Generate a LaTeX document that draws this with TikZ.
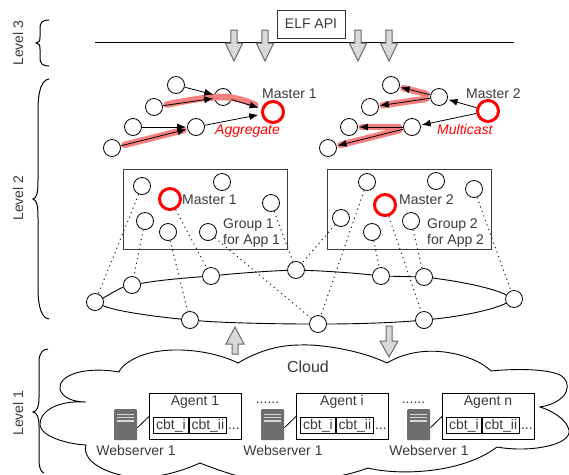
\documentclass[tikz,border=0pt]{standalone}
\usepackage{fontspec}
\setmainfont{Liberation Sans}
\usetikzlibrary{arrows.meta}
\definecolor{txt}{HTML}{3A3A3A}
\definecolor{srv}{HTML}{6E6E6E}
\definecolor{pinkline}{HTML}{F47F7F}
\definecolor{arrowfill}{HTML}{D9D9D9}
\definecolor{arrowedge}{HTML}{6A6A6A}
\tikzset{
  x=1pt,y=-1pt,
  lbl/.style={font=\fontsize{14}{16}\selectfont,text=txt,inner sep=0pt},
  redlbl/.style={font=\fontsize{14}{16}\selectfont\itshape,text=red,inner sep=0pt},
  peer/.style={circle,draw=black,fill=white,line width=0.8pt,minimum size=17pt,inner sep=0pt},
  master/.style={circle,draw=red,fill=white,line width=3pt,minimum size=21pt,inner sep=0pt},
  hl/.style={draw=pinkline,line width=6.5pt,line cap=round,shorten >=4pt,shorten <=4pt},
  arr/.style={draw=black,line width=0.8pt,shorten >=1pt,-{Latex[length=9pt,width=7pt]}},
  dots/.style={draw=black!85,line width=1pt,dash pattern=on 1.2pt off 3.6pt},
  ringline/.style={draw=black,line width=0.9pt},
  groupbox/.style={draw=black!75,line width=1pt,fill=none,inner sep=0pt},
  plainbox/.style={draw=black!80,line width=1pt,inner sep=0pt,font=\fontsize{14}{16}\selectfont,text=txt},
  cbt/.style={draw=black,line width=0.9pt,inner sep=0pt,minimum height=16pt,text height=11pt,text depth=3pt,font=\fontsize{14}{16}\selectfont,text=txt},
  brace/.style={draw=black,line width=1pt},
  bigarrow/.style={draw=arrowedge,fill=arrowfill,line width=1pt,line join=miter},
  srvbox/.style={fill=srv,draw=none,rounded corners=1pt,minimum width=23pt,minimum height=31pt,inner sep=0pt},
  srvline/.style={draw=white!85!black,line width=1.3pt},
  thin/.style={draw=black,line width=0.8pt}
}
\newcommand{\downarrowshape}[3]{% x, top y, tip y
  \draw[bigarrow] (#1-3.2,#2) -- (#1+3.2,#2) -- (#1+3.2,#3-18) -- (#1+8.7,#3-18) -- (#1,#3) -- (#1-8.7,#3-18) -- (#1-3.2,#3-18) -- cycle;}
\begin{document}
\begin{tikzpicture}
\useasboundingbox (0,0) rectangle (569,474);
\begin{scope}
\clip (0,0) rectangle (569,474);
% cloud
\draw[draw=black,line width=0.9pt,fill=white]
 (238,363) .. controls (212,350) and (168,345) .. (140,356)
 .. controls (128,361) and (121,367) .. (119,372)
 .. controls (85,366) and (58,375) .. (60,389)
 .. controls (62,398) and (74,402) .. (86,402)
 .. controls (55,400) and (39,413) .. (40,425)
 .. controls (41,436) and (66,444) .. (86,445)
 .. controls (82,456) and (95,470) .. (125,476)
 .. controls (150,481) and (180,472) .. (200,463)
 .. controls (215,469) and (230,474) .. (245,478)
 .. controls (280,484) and (330,482) .. (368,468)
 .. controls (395,475) and (460,475) .. (497,447)
 .. controls (530,453) and (572,445) .. (569,430)
 .. controls (566,418) and (550,410) .. (540,407)
 .. controls (570,402) and (573,382) .. (560,375)
 .. controls (545,368) and (510,369) .. (491,371)
 .. controls (475,355) and (425,340) .. (387,363)
 .. controls (360,350) and (320,344) .. (300,345)
 .. controls (275,345) and (255,353) .. (238,363) -- cycle;
\end{scope}
% level 3
\draw[thin,line width=1pt] (95,42) coordinate (la) -- (514,42) coordinate (lb);
\node[plainbox,minimum width=68pt,minimum height=28pt] (api) at (311,24) {ELF API};
\downarrowshape{234}{30}{61}
\downarrowshape{265}{30}{61}
\downarrowshape{358}{30}{61}
\downarrowshape{389}{30}{61}
% braces
\draw[brace] (49,20) .. controls (42,20) and (40,23) .. (40,28) -- (40,37) .. controls (40,41) and (39,43) .. (36,43)
  .. controls (39,43) and (40,45) .. (40,49) -- (40,58) .. controls (40,63) and (42,66) .. (49,66);
\draw[brace] (49,79) .. controls (42,80) and (38,90) .. (38,110) -- (38,180) .. controls (38,192) and (37,198) .. (33,199)
  .. controls (37,200) and (38,206) .. (38,218) -- (38,288) .. controls (38,308) and (42,318) .. (49,319);
\draw[brace] (48,349) .. controls (43,349) and (39,353) .. (39,362) -- (39,398) .. controls (39,407) and (37,411) .. (33,412)
  .. controls (37,413) and (39,417) .. (39,426) -- (39,460) .. controls (39,468) and (41,472) .. (44,473);
\node[lbl,rotate=90] (l3) at (18,43) {Level 3};
\node[lbl,rotate=90] (l2) at (18,198) {Level 2};
\node[lbl,rotate=90] (l1) at (18,413) {Level 1};
% aggregate tree
\node[peer] (a1) at (176,85) {};
\node[peer] (a2) at (154,107) {};
\node[peer] (a3) at (133,127) {};
\node[peer] (a4) at (112,148) {};
\node[peer] (b1) at (223,97) {};
\node[peer] (b2) at (196,127) {};
\node[master] (m1) at (273,112) {};
\draw[hl] (a4) -- (b2);
\draw[hl,shorten >=7pt] (a2) .. controls (185,101) and (205,97) .. (b1.center) .. controls (236,97) and (248,102) .. (m1);
\draw[arr] (a1) -- (b1);
\draw[arr] (a2) -- (b1);
\draw[arr,shorten >=3pt] (b1) -- (m1);
\draw[arr] (a3) -- (b2);
\draw[arr] (a4) -- (b2);
\draw[arr,shorten >=3pt] (b2) -- (m1);
\node[lbl,anchor=base west] (m1t) at (262,98) {Master 1};
\node[redlbl,anchor=base west] (agg) at (215,134) {Aggregate};
% multicast tree
\node[peer] (c1) at (391,85) {};
\node[peer] (c2) at (370,107) {};
\node[peer] (c3) at (349,127) {};
\node[peer] (c4) at (328,148) {};
\node[peer] (d1) at (439,97) {};
\node[peer] (d2) at (412,127) {};
\node[master] (m2) at (488,111) {};
\draw[hl] (d1) -- (c1);
\draw[hl] (d1) -- (c2);
\draw[hl] (d2) -- (c3);
\draw[hl] (d2) -- (c4);
\draw[arr] (m2) -- (d1);
\draw[arr] (m2) -- (d2);
\draw[arr] (d1) -- (c1);
\draw[arr] (d1) -- (c2);
\draw[arr] (d2) -- (c3);
\draw[arr] (d2) -- (c4);
\node[lbl,anchor=base west] (m2t) at (466,98) {Master 2};
\node[redlbl,anchor=base west] (mul) at (437,134) {Multicast};
% group boxes
\node[groupbox,minimum width=164pt,minimum height=80pt] (box1) at (205,209) {};
\node[groupbox,minimum width=164pt,minimum height=80pt] (box2) at (409,209) {};
% ring nodes
\node[peer] (r1) at (95,302) {};
\node[peer] (r2) at (132,285) {};
\node[peer] (r3) at (211,276) {};
\node[peer] (r4) at (296,270) {};
\node[peer] (r5) at (381,276) {};
\node[peer] (r6) at (424,277) {};
\node[peer] (r7) at (514,299) {};
\node[peer] (r8) at (424,320) {};
\node[peer] (r9) at (318,324) {};
\node[peer] (r10) at (190,320) {};
\draw[ringline] (r1) .. controls (107,296) and (120,288) .. (r2);
\draw[ringline] (r2) .. controls (160,280) and (185,278) .. (r3);
\draw[ringline] (r3) .. controls (240,273) and (270,271) .. (r4);
\draw[ringline] (r4) .. controls (325,271) and (355,273) .. (r5);
\draw[ringline] (r5) -- (r6);
\draw[ringline] (r6) .. controls (465,282) and (495,289) .. (r7);
\draw[ringline] (r7) .. controls (495,309) and (465,316) .. (r8);
\draw[ringline] (r8) .. controls (390,323) and (350,324) .. (r9);
\draw[ringline] (r9) .. controls (280,324) and (225,323) .. (r10);
\draw[ringline] (r10) .. controls (150,316) and (115,311) .. (r1);
% group 1
\node[peer] (g1) at (142,186) {};
\node[peer] (g2) at (222,182) {};
\node[master] (gm1) at (170,199) {};
\node[peer] (g3) at (271,203) {};
\node[peer] (g4) at (145,221) {};
\node[peer] (g5) at (168,232) {};
\node[peer] (g6) at (208,232) {};
\node[lbl,anchor=base west] (gm1t) at (182,204) {Master 1};
\node[lbl,anchor=base west] (gt1) at (223,228) {Group 1};
\node[lbl,anchor=base west] (gt1b) at (223,244) {for App 1};
% group 2
\node[peer] (h1) at (367,182) {};
\node[peer] (h2) at (436,181) {};
\node[peer] (h3) at (474,189) {};
\node[peer] (h4) at (341,218) {};
\node[peer] (h5) at (372,232) {};
\node[peer] (h6) at (411,221) {};
\node[master] (gm2) at (385,205) {};
\node[lbl,anchor=base west] (gm2t) at (399,204) {Master 2};
\node[lbl,anchor=base west] (gt2) at (427,228) {Group 2};
\node[lbl,anchor=base west] (gt2b) at (427,244) {for App 2};
% dotted links
\draw[dots] (g1) -- (r1);
\draw[dots] (g4) -- (r2);
\draw[dots] (g5) -- (r10);
\draw[dots] (gm1) -- (r3);
\draw[dots] (g6) -- (r9);
\draw[dots] (g3) -- (r4);
\draw[dots] (h1) -- (r9);
\draw[dots] (h4) -- (r4);
\draw[dots] (h5) -- (r5);
\draw[dots] (gm2) -- (r8);
\draw[dots] (h6) -- (r6);
\draw[dots] (h3) -- (r7);
% cloud arrows
\draw[bigarrow] (232,354) -- (238,354) -- (238,344) -- (244,344) -- (235,327) -- (226,344) -- (232,344) -- cycle;
\draw[bigarrow] (386,326) -- (392,326) -- (392,341) -- (398,341) -- (389,357) -- (380,341) -- (386,341) -- cycle;
\node[lbl,font=\fontsize{16}{18}\selectfont] (cloudt) at (308,367) {Cloud};
% agents
\foreach \nm/\ax/\atxt/\sx/\wx in {A/149/Agent 1/114/136, B/296/Agent i/261/283, C/442/Agent n/407/429}{
  \node[draw=black,line width=0.9pt,inner sep=0pt,minimum width=92pt,minimum height=46pt,anchor=north west] (ag\nm) at (\ax,393) {};
  \node[lbl,anchor=base] (agt\nm) at (\ax+46,405) {\atxt};
  \node[cbt,anchor=north west,minimum width=35pt] (cbi\nm) at (\ax+4,417) {cbt\_i};
  \node[cbt,anchor=west,minimum width=37pt] (cbii\nm) at (cbi\nm.east) {cbt\_ii};
  \node[lbl,anchor=west,xshift=1pt,yshift=-3pt] (dd\nm) at (cbii\nm.east) {...};
  \node[srvbox,anchor=north west] (sv\nm) at (\sx,409) {};
  \draw[srvline] (\sx+3,414.5) -- (\sx+20,414.5);
  \draw[srvline] (\sx+3,417.8) -- (\sx+20,417.8);
  \draw[srvline] (\sx+3,421) -- (\sx+20,421);
  \draw[thin] (sv\nm.east) ++(0,3) -- (ag\nm.west);
  \node[lbl,anchor=base] (ws\nm) at (\wx,455) {Webserver 1};
}
\node[lbl] (dots1) at (267.5,403) {......};
\node[lbl] (dots2) at (413.5,403) {......};
\end{tikzpicture}
\end{document}
